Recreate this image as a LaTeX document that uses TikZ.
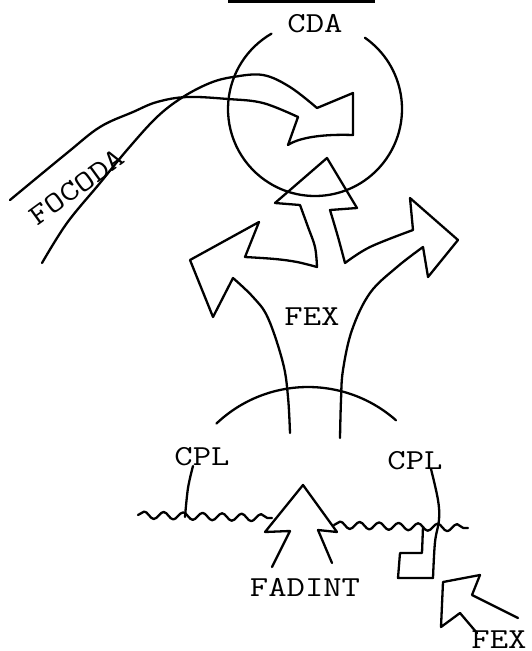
\documentclass[tikz,border=0pt]{standalone}
\usetikzlibrary{decorations.pathmorphing,calc}
\begin{document}
\begin{tikzpicture}[x=1pt,y=-1pt,
  sk/.style={line width=2.3pt, line join=round, line cap=round},
  wave/.style={sk, decorate, decoration={snake, amplitude=3.6pt, segment length=19.5pt}},
  lbl/.style={inner sep=0pt, font=\fontsize{29}{30}\selectfont\ttfamily}]
\useasboundingbox (0,0) rectangle (532,651);
% top underline fragment
\draw[line width=3pt] (228,1.5) -- (375,1.5);
% CDA circle (open at the top for its label)
\coordinate (cdac) at (315,109);
\draw[sk] ($(cdac)+(-55:87)$) arc[start angle=-55, end angle=240, radius=87];
\node[lbl] (cda) at (315,24) {\scalebox{1.23}[1]{CDA}};
% FOCODA arrow
\draw[sk] plot[smooth, tension=0.6] coordinates {(10,200) (67,153) (100,127) (133,112) (157,102) (187,97) (228,99) (263,103) (298,117)};
\draw[sk] plot[smooth, tension=0.6] coordinates {(42,263) (67,223) (100,183) (127,150) (157,117) (183,97) (210,83) (233,77) (263,75) (290,87) (317,108)};
\draw[sk] (317,108) -- (353,93) -- (353,135) .. controls (325,134) and (300,137) .. (288,145) -- (298,117);
\node[lbl, rotate=36] (focoda) at (77,187) {\scalebox{1.23}[1]{FOCODA}};
% FEX three-way arrow
\draw[sk] plot[smooth, tension=0.6] coordinates {(290,433) (288,397) (283,363) (268,318) (253,297) (233,278)}
  -- (213,317) -- (190,260) -- (259,222) -- (245,257)
  -- plot[smooth, tension=0.6] coordinates {(245,257) (275,259) (297,262) (317,267)}
  -- plot[smooth, tension=0.6] coordinates {(317,267) (315,247) (308,227) (300,205)}
  -- (275,203) -- (327,158) -- (357,208) -- (330,210)
  -- plot[smooth, tension=0.6] coordinates {(330,210) (338,237) (345,263)}
  -- plot[smooth, tension=0.6] coordinates {(345,263) (370,247) (413,230)}
  -- (410,198) -- (458,240) -- (428,277) -- (423,247)
  -- plot[smooth, tension=0.6] coordinates {(423,247) (397,267) (370,293) (352,330) (343,370) (341,400) (340,438)};
\node[lbl] (fex) at (312,317) {\scalebox{1.23}[1]{FEX}};
% lower arc
\coordinate (arcc) at (308,520);
\draw[sk] ($(arcc)+(-133.5:133)$) arc[start angle=-133.5, end angle=-48.6, radius=133];
% CPL labels and their lines
\node[lbl] (cpl1) at (202,457) {\scalebox{1.23}[1]{CPL}};
\node[lbl] (cpl2) at (415,461) {\scalebox{1.23}[1]{CPL}};
\draw[sk] plot[smooth, tension=0.6] coordinates {(193,466) (188,488) (185,517)};
\draw[sk] plot[smooth, tension=0.6] coordinates {(431,469) (438,500) (439,520) (435,542) (433,578)};
% wavy lines
\draw[wave] (138,515) -- (272,518);
\draw[wave] (334,525) -- (468,528);
% bent piece under the right wave
\draw[sk] (423,527) -- (422,553) -- (400,553) -- (398,578) -- (433,578);
% FADINT arrow
\draw[sk] (272,567) -- (290,531) -- (265,532) -- (303,485) -- (337,532) -- (318,530) -- (332,563);
\node[lbl] (fadint) at (305,587) {\scalebox{1.23}[1]{FADINT}};
% small FEX arrow
\draw[sk] (477,633) -- (460,613) -- (441,627) -- (443,582) -- (480,575) -- (472,595) -- (518,618);
\node[lbl] (fex2) at (499,640) {\scalebox{1.23}[1]{FEX}};
\end{tikzpicture}
\end{document}
